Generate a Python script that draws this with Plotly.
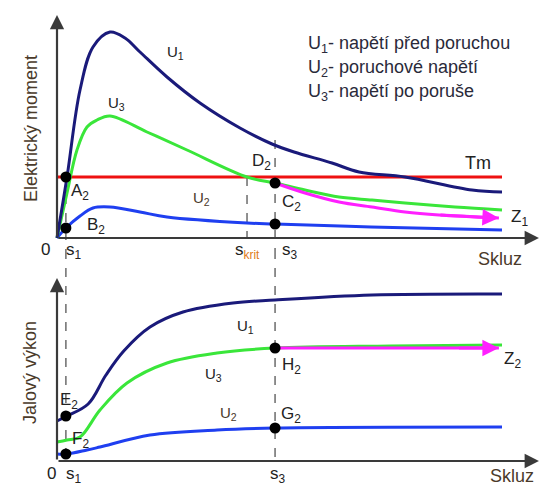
import plotly.graph_objects as go

# ---------------- data (slip in relative units, curve end = 1.0) ----------------
S1 = 0.02
S_KRIT = 0.427
S3 = 0.49
S_END = 1.0
TM = 0.61

# top panel: electric moment
u1_top_s = [0, 0.0225, 0.0517, 0.0809, 0.1191, 0.1528, 0.1865, 0.2472, 0.3213, 0.4112, 0.4831, 0.5326, 0.618, 0.6787, 0.782, 0.9326, 1.0]
u1_top_m = [0, 0.61, 1.48, 1.91, 2.06, 2.00, 1.86, 1.61, 1.35, 1.10, 0.94, 0.86, 0.75, 0.66, 0.61, 0.48, 0.46]

u3_top_s = [0, 0.0225, 0.0449, 0.0674, 0.0899, 0.1191, 0.2022, 0.2921, 0.427, 0.49, 0.5573, 0.6337, 0.7079, 0.782, 0.8944, 1.0]
u3_top_m = [0, 0.45, 0.88, 1.11, 1.18, 1.22, 1.06, 0.88, 0.61, 0.55, 0.48, 0.41, 0.38, 0.35, 0.31, 0.28]

u2_top_s = [0, 0.02, 0.0517, 0.0809, 0.1191, 0.1865, 0.2472, 0.427, 0.49, 0.7056, 1.0]
u2_top_m = [0, 0.10, 0.22, 0.30, 0.31, 0.26, 0.21, 0.15, 0.14, 0.11, 0.08]

z1_s = [0.49, 0.5573, 0.6337, 0.7079, 0.782, 0.8584, 0.993]
z1_m = [0.55, 0.45, 0.36, 0.31, 0.26, 0.23, 0.20]

# bottom panel: reactive power
u1_bot_s = [0, 0.0225, 0.07, 0.11, 0.15, 0.209, 0.2831, 0.3955, 0.49, 0.7079, 1.0]
u1_bot_q = [0.40, 0.45, 0.57, 0.86, 1.10, 1.34, 1.49, 1.58, 1.61, 1.66, 1.67]

u3_bot_s = [0, 0.0225, 0.0517, 0.0966, 0.1573, 0.2472, 0.3596, 0.49, 0.75, 1.0]
u3_bot_q = [0.19, 0.21, 0.24, 0.51, 0.78, 0.98, 1.08, 1.13, 1.15, 1.16]

u2_bot_s = [0, 0.0225, 0.0674, 0.0966, 0.209, 0.3596, 0.49, 1.0]
u2_bot_q = [0.07, 0.07, 0.11, 0.14, 0.26, 0.31, 0.33, 0.34]

z2_s = [0.49, 0.993]
z2_q = [1.13, 1.13]

legend_lines = ["U<sub>1</sub>- napětí před poruchou",
                "U<sub>2</sub>- poruchové napětí",
                "U<sub>3</sub>- napětí po poruše"]

# ---------------- styles ----------------
C_U1 = "#1a1a7a"
C_U3 = "#3ae63a"
C_U2 = "#1f3ff0"
C_RED = "#ee1111"
C_MAG = "#ff1fff"
C_AX = "#3a3a3a"
C_TXT = "#222222"
C_TTL = "#4a3a2a"
FONT = "Liberation Sans, Arial, sans-serif"
LW = 3

X_RANGE = [-57 / 445, 487 / 445]
TOP_DOM = [1 - 250 / 486, 1]
BOT_DOM = [0, 1 - 250 / 486]
TOP_RANGE = [-0.12, 2.38]
BOT_RANGE = [-0.25, 2.11]
X_ARROW = 1.083
TOP_ARROW = 2.23
BOT_ARROW = 1.83

fig = go.Figure()


def line(xs, ys, color, panel, dash=None, width=LW):
    xa, ya = ("x", "y") if panel == "top" else ("x2", "y2")
    fig.add_trace(go.Scatter(x=xs, y=ys, mode="lines", xaxis=xa, yaxis=ya,
                             line=dict(color=color, width=width, shape="spline",
                                       smoothing=1.0, dash=dash),
                             hoverinfo="skip", showlegend=False))


# dashed guide lines
line([S1, S1], [TM, TOP_RANGE[0]], "#555555", "top", dash="dash", width=1.3)
line([S_KRIT, S_KRIT], [TM, 0], "#555555", "top", dash="dash", width=1.3)
line([S3, S3], [0.98, TOP_RANGE[0]], "#555555", "top", dash="dash", width=1.3)
line([S1, S1], [BOT_RANGE[1], 0], "#555555", "bot", dash="dash", width=1.3)
line([S3, S3], [BOT_RANGE[1], 0], "#555555", "bot", dash="dash", width=1.3)

# top curves
line([0, S_END], [TM, TM], C_RED, "top")
line(u2_top_s, u2_top_m, C_U2, "top")
line(u3_top_s, u3_top_m, C_U3, "top")
line(u1_top_s, u1_top_m, C_U1, "top")
line(z1_s, z1_m, C_MAG, "top")

# bottom curves
line(u2_bot_s, u2_bot_q, C_U2, "bot")
line(u3_bot_s, u3_bot_q, C_U3, "bot")
line(u1_bot_s, u1_bot_q, C_U1, "bot")
line(z2_s, z2_q, C_MAG, "bot")

# black points
fig.add_trace(go.Scatter(x=[S1, S1, S3, S3], y=[TM, u2_top_m[1], u3_top_m[9], u2_top_m[8]],
                         mode="markers", marker=dict(color="black", size=11),
                         xaxis="x", yaxis="y", hoverinfo="skip", showlegend=False))
fig.add_trace(go.Scatter(x=[S1, S1, S3, S3], y=[u1_bot_q[1], u2_bot_q[1], z2_q[0], u2_bot_q[6]],
                         mode="markers", marker=dict(color="black", size=11),
                         xaxis="x2", yaxis="y2", hoverinfo="skip", showlegend=False))

ann = []


def arrow(x, y, ax, ay, panel, color, width, size=1.0, head=2):
    xr, yr = ("x", "y") if panel == "top" else ("x2", "y2")
    ann.append(dict(x=x, y=y, ax=ax, ay=ay, xref=xr, yref=yr, axref=xr, ayref=yr,
                    text="", showarrow=True, arrowhead=head, arrowsize=size,
                    arrowwidth=width, arrowcolor=color, standoff=0, startstandoff=0))


# axes with arrows
arrow(X_ARROW, 0, 0, 0, "top", C_AX, 2.2, 1.3)
arrow(0, TOP_ARROW, 0, 0, "top", C_AX, 2.2, 1.3)
arrow(X_ARROW, 0, 0, 0, "bot", C_AX, 2.2, 1.3)
arrow(0, BOT_ARROW, 0, 0, "bot", C_AX, 2.2, 1.3)
# magenta arrow heads
arrow(z1_s[-1], z1_m[-1], z1_s[-2], z1_m[-2], "top", C_MAG, 3, 1.1)
arrow(z2_s[-1], z2_q[-1], 0.9, z2_q[-1], "bot", C_MAG, 3, 1.1)


def label(text, x, y, panel, dx=0, dy=0, size=17, color=C_TXT):
    xr, yr = ("x", "y") if panel == "top" else ("x2", "y2")
    ann.append(dict(x=x, y=y, xref=xr, yref=yr, text=text, showarrow=False,
                    xanchor="center", yanchor="middle",
                    xshift=dx, yshift=dy, font=dict(family=FONT, size=size, color=color)))


# top labels
label("A<sub>2</sub>", S1, TM, "top", 14, -15)
label("B<sub>2</sub>", S1, u2_top_m[1], "top", 30, 2)
label("D<sub>2</sub>", S3, u3_top_m[9], "top", -14, 21)
label("C<sub>2</sub>", S3, u2_top_m[8], "top", 16, 21)
label("Tm", S_END, TM, "top", -24, 14, 18)
label("Z<sub>1</sub>", z1_s[-1], z1_m[-1], "top", 21, 0)
label("0", 0, 0, "top", -12, -11)
label("s<sub>1</sub>", S1, 0, "top", 8, -13)
label("s<sub><span style='color:#e07b20'>krit</span></sub>", S_KRIT, 0, "top", 0, -13)
label("s<sub>3</sub>", S3, 0, "top", 15, -13)
label("Skluz", S_END, 0, "top", -2, -21, 18, C_TTL)
label("U<sub>1</sub>", 0.2674, 1.86, "top", 0, 0, 15, C_TXT)
label("U<sub>3</sub>", 0.1348, 1.35, "top", 0, 0, 15, C_TXT)
label("U<sub>2</sub>", 0.3258, 0.40, "top", 0, 0, 15, C_TTL)

# bottom labels
label("U<sub>1</sub>", 0.4225, 1.35, "bot", 0, 0, 15, C_TXT)
label("U<sub>3</sub>", 0.3506, 0.87, "bot", 0, 0, 15, C_TXT)
label("U<sub>2</sub>", 0.3843, 0.48, "bot", 0, 0, 15, C_TTL)
label("E<sub>2</sub>", S1, u1_bot_q[1], "bot", 3, 15)
label("F<sub>2</sub>", S1, u2_bot_q[1], "bot", 15, 14)
label("H<sub>2</sub>", S3, z2_q[0], "bot", 16, -18)
label("G<sub>2</sub>", S3, u2_bot_q[6], "bot", 16, 13)
label("Z<sub>2</sub>", z2_s[-1], z2_q[-1], "bot", 14, -12)
label("0", 0, 0, "bot", -6, -12)
label("s<sub>1</sub>", S1, 0, "bot", 8, -14)
label("s<sub>3</sub>", S3, 0, "bot", 3, -14)
label("Skluz", S_END, 0, "bot", 10, -15, 18, C_TTL)

# legend text
for i, t in enumerate(legend_lines):
    ann.append(dict(x=306 / 544, y=1 - (44 + 24 * i) / 486, xref="paper", yref="paper",
                    xanchor="left", yanchor="middle", text=t, showarrow=False,
                    font=dict(family=FONT, size=18, color="#2a2a3a")))

# axis titles
ann.append(dict(x=31 / 544, y=1 - 129 / 486, xref="paper", yref="paper", text="Elektrický moment",
                xanchor="center", yanchor="middle",
                textangle=-90, showarrow=False, font=dict(family=FONT, size=18, color=C_TTL)))
ann.append(dict(x=30 / 544, y=1 - 373 / 486, xref="paper", yref="paper", text="Jalový výkon",
                xanchor="center", yanchor="middle",
                textangle=-90, showarrow=False, font=dict(family=FONT, size=18, color=C_TTL)))

hidden = dict(visible=False, showgrid=False, zeroline=False, fixedrange=True)
fig.update_layout(
    width=544, height=486, margin=dict(l=0, r=0, t=0, b=0),
    paper_bgcolor="white", plot_bgcolor="white", showlegend=False,
    xaxis=dict(range=X_RANGE, domain=[0, 1], anchor="y", **hidden),
    yaxis=dict(range=TOP_RANGE, domain=TOP_DOM, anchor="x", **hidden),
    xaxis2=dict(range=X_RANGE, domain=[0, 1], anchor="y2", **hidden),
    yaxis2=dict(range=BOT_RANGE, domain=BOT_DOM, anchor="x2", **hidden),
    annotations=ann,
)

fig.write_html("out.html")
